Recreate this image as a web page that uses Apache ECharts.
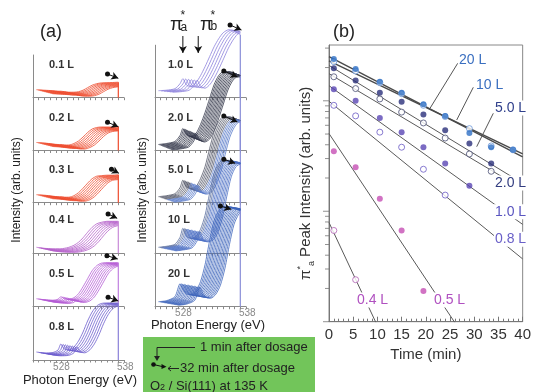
<!DOCTYPE html>
<html><head><meta charset="utf-8">
<script src="https://cdn.jsdelivr.net/npm/echarts/dist/echarts.min.js"></script>
<style>html,body{margin:0;padding:0;background:#fff}#c{width:534px;height:392px}</style>
</head><body><div id="c"></div>
<script>
// ================= Panel (a) data =================
// photon energy grid (eV) of the first (1 min) spectrum in each panel
const energies = [523.6, 525, 526.5, 527.4, 527.9, 528.5, 529.3, 530.2, 531, 531.8, 532.6, 533.4, 534.2, 535, 536, 537, 538];
// intensity of the first spectrum of each dose (arb. units)
const spec01 = [8, 7.5, 7, 6.5, 6.5, 6, 5.5, 5.5, 6, 7.5, 10, 12.5, 14, 14.8, 15, 15.2, 15.5];
const spec02 = [8, 7.5, 6.5, 6, 6, 5.5, 5.5, 7, 9.5, 13.5, 18, 21.5, 23, 23.5, 23.5, 23.5, 24];
const spec03 = [8, 7.5, 6.5, 6, 6, 5.5, 5.5, 7, 10, 14.5, 19.5, 24, 26.5, 27, 27.5, 27.5, 28];
const spec04 = [6, 5, 4.5, 4.5, 4.5, 5, 6, 8, 11, 15.5, 21, 26, 29.5, 31, 32, 32, 32];
const spec05 = [8, 7, 6.5, 7.5, 10, 8, 7.5, 9, 13, 20, 28, 36, 41, 43.5, 44, 44, 44];
const spec08 = [8, 7, 7.5, 10, 16, 11, 10, 13, 19, 28, 39, 48, 54, 56.5, 57, 57, 57];
const spec10 = [7, 7.5, 9, 14, 19, 13, 11, 15, 22, 31, 41, 51, 59, 65, 68, 66, 63];
const spec20 = [6, 7, 9, 15, 22, 16, 14, 17, 26, 38, 52, 66, 75, 79, 79, 77, 75];
const spec50 = [6, 7, 9, 15, 22.5, 16, 14, 16, 24, 36, 54, 71, 81, 86, 86, 84, 82];
const spec100 = [6, 7, 9, 16, 25, 17, 15, 17, 24, 38, 60, 80, 90, 93, 93, 91, 89];
const spec200 = [5, 6, 10, 23, 17, 13, 12, 16, 25, 42, 66, 86, 96, 100, 100, 98, 96];
// dose labels
const doseLeft = ['0.1 L', '0.2 L', '0.3 L', '0.4 L', '0.5 L', '0.8 L'];
const doseRight = ['1.0 L', '2.0 L', '5.0 L', '10 L', '20 L'];
// number of spectra (1 min ... 32 min) and waterfall offset per spectrum
const spectraCount = [9, 9, 9, 8, 9, 8, 6, 12, 12, 13, 15];
const shiftPerSpectrum = [0.35, 0.35, 0.35, 0.4, 0.35, 0.4, 0.5, 0.22, 0.25, 0.25, 0.25];
const dropPerSpectrum = [-0.5, -0.5, -0.5, -0.5, -0.4, -0.4, -0.3, -0.5, -0.5, -0.3, -0.25];
// 1 min -> 32 min indicator (energy, intensity)
const indicatorStart = [[536.1, 23.7], [536.1, 28.3], [536.8, 33.4], [536.2, 39.3], [536.0, 51], [536.2, 62.7], [536.2, 72.7], [535.1, 79.6], [535.1, 86.7], [535.1, 94], [534.5, 100.7]];
const indicatorEnd = [[538.0, 19.4], [538.0, 23.7], [538.1, 29.4], [537.8, 35], [537.9, 47.7], [538.0, 59], [538.2, 67.7], [537.5, 73.6], [537.5, 80.7], [537.1, 90], [536.4, 97.4]];
// pi*a and pi*b arrows in the 1.0 L panel (energy, from, to)
const piArrows = [[527.9, 61.7, 44.7], [530.6, 61.7, 44.7]];
const xTickLabels = [528, 538];

// ================= Panel (b) data =================
const bTimes = [1, 5.5, 10.5, 15, 19.5, 24, 29, 33.5, 38];
const b20 = [2.39, 1.94, 1.49, 1.18, 0.93, 0.73, 0.51, 0.38, 0.36];
const b10 = [2.26, 1.86, 1.46, 1.16, 0.91, 0.72, 0.56, 0.39, 0.36];
const b50 = [1.97, 1.53, 1.18, 0.98, 0.75, 0.54, 0.41, 0.27];
const b2 = [1.65, 1.29, 1.04, 0.79, 0.63, 0.46, 0.33, 0.23];
const b1 = [1.27, 1.0, 0.70, 0.52, 0.38, 0.27, 0.17];
const b08 = [0.91, 0.73, 0.52, 0.38, 0.24, 0.14];
const b05 = [0.35, 0.25, 0.13, 0.067, 0.019];
const b04 = [0.067, 0.024];
// exponential fits (time, intensity) end points
const fit20 = [[0, 2.51], [40, 0.31]];
const fit10 = [[0, 2.30], [40, 0.33]];
const fit50 = [[0, 2.09], [40, 0.179]];
const fit2 = [[0, 1.76], [40, 0.159]];
const fit1 = [[0, 1.37], [40, 0.076]];
const fit08 = [[0, 0.99], [40, 0.037]];
const fit05 = [[0, 0.505], [26, 0.0098]];
const fit04 = [[0, 0.079], [9.7, 0.0098]];
const logMajorTicks = [0.01, 0.1, 1];
const logMinorTicks = [0.02, 0.03, 0.04, 0.05, 0.06, 0.07, 0.08, 0.09, 0.2, 0.3, 0.4, 0.5, 0.6, 0.7, 0.8, 0.9, 2, 3];

// ================= build =================
const FONT = '"Liberation Sans", Arial, Helvetica, sans-serif';
const PX_PER_EV = 91 / 16;
const panelSpecs = [spec01, spec02, spec03, spec04, spec05, spec08, spec10, spec20, spec50, spec100, spec200];
const panelColors = [
  ['#ee4a2c', '#ee4a2c'], ['#ee4a2c', '#ee4a2c'], ['#ee4a2c', '#ee4a2c'],
  ['#b45ec9', '#b45ec9'], ['#b45ad4', '#b45ad4'], ['#6b5acd', '#6b5acd'],
  ['#8c80dc', '#8c80dc'], ['#34374a', '#4a4e66'], ['#55596a', '#5778c8'],
  ['#5a6ea0', '#4b6fc4'], ['#3f66bb', '#3f66bb']];
const colorSplit = [99, 99, 99, 99, 99, 99, 99, 99, 6, 3, 99];
const edgeColors = ['#ee4a2c', '#ee4a2c', '#ee4a2c', '#c88ad8', '#c080e0', '#8a80d8', '#8a8ed8', '#8a8ed8', '#8a8ed8', '#8a8ed8', '#8a8ed8'];
const bottoms = [97.7, 150.5, 202.7, 253.3, 306.7, 360];

const grids = [], xAxes = [], yAxes = [], series = [], graphic = [];

function curve(shape, k, dx, dy) {
  const pts = [];
  for (let j = 0; j < energies.length; j++) {
    const e = energies[j] + k * dx, h = shape[j] + k * dy;
    if (e <= 538) pts.push([e, h]);
    else {
      const pe = energies[j - 1] + k * dx, ph = shape[j - 1] + k * dy;
      const t = (538 - pe) / (e - pe);
      pts.push([538, ph + t * (h - ph)]);
      break;
    }
  }
  return pts;
}
function rotFor(s, e) {
  const ang = Math.atan2(e[1] - s[1], (e[0] - s[0]) * PX_PER_EV) * 180 / Math.PI;
  return ang - 90;
}
function arrowSeries(p, s, e, startSym) {
  series.push({
    type: 'line', xAxisIndex: p, yAxisIndex: p, clip: false, silent: true, z: 40, showSymbol: true,
    lineStyle: { color: '#111', width: 1 }, itemStyle: { color: '#111' },
    data: [
      { value: s, symbol: startSym, symbolSize: 5 },
      { value: e, symbol: 'arrow', symbolSize: [6, 7], symbolRotate: rotFor(s, e) }
    ]
  });
}

for (let p = 0; p < 11; p++) {
  const isLeft = p < 6;
  const row = isLeft ? p : p - 6;
  const bottom = bottoms[row];
  const top = row === 0 ? (isLeft ? 55 : 45.2) : bottoms[row - 1];
  const H = bottom - top;
  const isBottom = isLeft ? row === 5 : row === 4;
  grids.push({ left: isLeft ? 33 : 155, width: 91, top: top, height: H });
  xAxes.push({
    gridIndex: p, type: 'value', min: 523, max: 539, interval: 1,
    axisLine: { show: true, lineStyle: { color: '#8a8a8a', width: 1 } },
    axisTick: { show: true, length: 2.5, lineStyle: { color: '#8a8a8a' } },
    splitLine: { show: false },
    axisLabel: {
      show: isBottom, margin: 2, fontSize: 10, color: '#888', fontFamily: FONT,
      formatter: v => v === xTickLabels[0] ? String(v) : (v === xTickLabels[1] ? '{r|' + v + '}' : ''),
      rich: { r: { fontSize: 10, color: '#888', fontFamily: FONT, padding: [0, 0, 0, 14] } }
    }
  });
  yAxes.push({
    gridIndex: p, type: 'value', min: 0, max: H,
    axisLine: { show: true, lineStyle: { color: '#8a8a8a', width: 1 } },
    axisTick: { show: false }, axisLabel: { show: false }, splitLine: { show: false }
  });
  const shape = panelSpecs[p];
  for (let k = 0; k < spectraCount[p]; k++) {
    series.push({
      type: 'line', xAxisIndex: p, yAxisIndex: p, clip: false, silent: true,
      symbol: 'none', smooth: 0.25, z: 2 + p,
      lineStyle: { width: 0.8, color: k < colorSplit[p] ? panelColors[p][0] : panelColors[p][1] },
      data: curve(shape, k, shiftPerSpectrum[p], dropPerSpectrum[p])
    });
  }
  series.push({
    type: 'line', xAxisIndex: p, yAxisIndex: p, clip: false, silent: true, symbol: 'none', z: 3 + p,
    lineStyle: { width: 1.2, color: edgeColors[p] },
    data: [[538, 0], [538, shape[shape.length - 1]]]
  });
  arrowSeries(p, indicatorStart[p], indicatorEnd[p], 'circle');
  if (p === 6) {
    piArrows.forEach(a => arrowSeries(p, [a[0], a[1]], [a[0], a[2]], 'none'));
  }
  graphic.push({
    type: 'text', x: isLeft ? 49 : 168, y: bottom - 33, z: 50,
    style: { text: isLeft ? doseLeft[row] : doseRight[row], fontSize: 11, fontWeight: 'bold', fontFamily: FONT, fill: '#333', verticalAlign: 'middle' }
  });
}

// ---- panel (b) ----
const B = 11;
grids.push({ left: 329, right: 8.3, top: 45, bottom: 70.3, show: true, borderColor: '#888', borderWidth: 1 });
xAxes.push({
  gridIndex: B, type: 'value', min: 0, max: 40, interval: 5,
  axisLine: { lineStyle: { color: '#777' } },
  axisTick: { inside: true, length: 5, lineStyle: { color: '#777' } },
  minorTick: { show: true, splitNumber: 5, length: 3, lineStyle: { color: '#777' } },
  splitLine: { show: false },
  axisLabel: { fontSize: 15, color: '#333', margin: 6, fontFamily: FONT },
  name: 'Time (min)', nameLocation: 'middle', nameGap: 24,
  nameTextStyle: { fontSize: 15, color: '#333', fontFamily: FONT }
});
yAxes.push({
  gridIndex: B, type: 'log', logBase: 10, min: 0.01, max: 3.2,
  axisLine: { show: true, lineStyle: { color: '#777' } },
  axisTick: { show: false }, axisLabel: { show: false }, splitLine: { show: false },
  name: '{p|π}{s|*}{a|a} Peak Intensity (arb. units)', nameLocation: 'middle', nameGap: 13,
  nameTextStyle: {
    fontSize: 15, color: '#333', fontFamily: FONT, lineHeight: 20,
    rich: {
      p: { fontSize: 15, color: '#333', fontFamily: FONT },
      s: { fontSize: 9, color: '#333', verticalAlign: 'top', fontFamily: FONT },
      a: { fontSize: 9, color: '#333', verticalAlign: 'bottom', fontFamily: FONT }
    }
  }
});
function fitLine(d, w, c) {
  series.push({ type: 'line', xAxisIndex: B, yAxisIndex: B, symbol: 'none', silent: true, z: 3, lineStyle: { width: w, color: c }, data: d });
}
[fit08, fit1, fit2, fit50, fit05, fit04].forEach(f => fitLine(f, 1, '#5a5a5a'));
fitLine(fit10, 1.4, '#4a4a4a');
fitLine(fit20, 1.4, '#4a4a4a');
function pts(vals, color, open) {
  series.push({
    type: 'scatter', xAxisIndex: B, yAxisIndex: B, symbol: 'circle', symbolSize: 6, silent: true, z: 5,
    itemStyle: open ? { color: '#fff', borderColor: color, borderWidth: 1 } : { color: color },
    data: vals.map((v, i) => [bTimes[i], v])
  });
}
pts(b10, '#6a96d8', true);
pts(b20, '#2e6fc4', false);
pts(b50, '#2a2f7a', false);
pts(b2, '#4a4f74', true);
pts(b1, '#5a46b4', false);
pts(b08, '#6a5ac4', true);
pts(b05, '#c54fb4', false);
pts(b04, '#b060b4', true);
series.push({
  type: 'scatter', xAxisIndex: B, yAxisIndex: B, symbol: 'rect', symbolSize: [6, 1], symbolOffset: [-3, 0],
  clip: false, silent: true, itemStyle: { color: '#777' }, data: logMajorTicks.map(v => [0, v])
});
series.push({
  type: 'scatter', xAxisIndex: B, yAxisIndex: B, symbol: 'rect', symbolSize: [4, 1], symbolOffset: [-2, 0],
  clip: false, silent: true, itemStyle: { color: '#777' }, data: logMinorTicks.map(v => [0, v])
});

// ---- annotations ----
function txt(x, y, text, size, color, extra) {
  graphic.push(Object.assign({ type: 'text', x: x, y: y, z: 60, style: Object.assign({ text: text, fontSize: size, fontFamily: FONT, fill: color || '#222', verticalAlign: 'middle' }, (extra && extra.style) || {}) }, extra && extra.el || {}));
}
txt(40, 32, '(a)', 18, '#222');
txt(333, 32, '(b)', 18, '#222');
// pi labels
txt(170, 25, 'π', 19, '#222');
txt(180.5, 16, '*', 12, '#222');
txt(180.5, 28, 'a', 12, '#222');
txt(200, 25, 'π', 19, '#222');
txt(210.5, 16, '*', 12, '#222');
txt(210.5, 27, 'b', 12, '#222');
// y titles of (a)
txt(17, 190, 'Intensity (arb. units)', 12, '#222', { el: { rotation: Math.PI / 2 }, style: { align: 'center' } });
txt(143, 190, 'Intensity (arb. units)', 12, '#222', { el: { rotation: Math.PI / 2 }, style: { align: 'center' } });
txt(80, 380, 'Photon Energy (eV)', 13, '#222', { style: { align: 'center' } });
txt(208, 325, 'Photon Energy (eV)', 13, '#222', { style: { align: 'center' } });
// green legend box
graphic.push({ type: 'rect', z: 55, shape: { x: 143, y: 337, width: 172, height: 56 }, style: { fill: '#72c55a' } });
graphic.push({ type: 'polyline', z: 60, shape: { points: [[195, 347.5], [157, 347.5], [157, 357]] }, style: { stroke: '#222', lineWidth: 1, fill: null } });
graphic.push({ type: 'polygon', z: 60, shape: { points: [[154, 356], [160, 356], [157, 361]] }, style: { fill: '#222' } });
graphic.push({ type: 'circle', z: 60, shape: { cx: 153.5, cy: 364.5, r: 2.3 }, style: { fill: '#111' } });
graphic.push({ type: 'line', z: 60, shape: { x1: 153.5, y1: 364.5, x2: 162, y2: 366.5 }, style: { stroke: '#111', lineWidth: 1 } });
graphic.push({ type: 'polygon', z: 60, shape: { points: [[161.5, 364], [166.5, 366.8], [161.5, 369]] }, style: { fill: '#111' } });
graphic.push({ type: 'line', z: 60, shape: { x1: 168, y1: 368.5, x2: 179, y2: 368.5 }, style: { stroke: '#222', lineWidth: 1 } });
graphic.push({ type: 'polyline', z: 60, shape: { points: [[171, 366], [168, 368.5], [171, 371]] }, style: { stroke: '#222', lineWidth: 1, fill: null } });
txt(200, 347.5, '1 min after dosage', 13, '#222');
txt(180, 368.5, '32 min after dosage', 13, '#222');
graphic.push({
  type: 'text', x: 150, y: 386, z: 60,
  style: {
    text: 'O{s|2} / Si(111) at 135 K', fontSize: 13, fontFamily: FONT, fill: '#222', verticalAlign: 'middle',
    rich: { s: { fontSize: 9, fontFamily: FONT, fill: '#222', verticalAlign: 'bottom' } }
  }
});
// panel (b) dose labels and leaders
const lead = [[[457.7, 63.3], [430, 108.3]], [[473.3, 87.3], [456.7, 120]], [[493.3, 113.3], [476.7, 146.7]]];
lead.forEach(l => graphic.push({ type: 'line', z: 58, shape: { x1: l[0][0], y1: l[0][1], x2: l[1][0], y2: l[1][1] }, style: { stroke: '#555', lineWidth: 1 } }));
function blab(x, y, t, c) {
  txt(x, y, t, 14, c, { style: { backgroundColor: '#fff', padding: [1, 1, 0, 1] } });
}
blab(458, 60, '20 L', '#3a6fc0');
blab(475, 85, '10 L', '#3a6fc0');
blab(494, 108, '5.0 L', '#30408c');
blab(494, 183, '2.0 L', '#333d80');
blab(494, 211.7, '1.0 L', '#5a55c0');
blab(494, 239.3, '0.8 L', '#6a60c8');
blab(356, 300, '0.4 L', '#b050c0');
blab(433, 300, '0.5 L', '#b050c0');

const chart = echarts.init(document.getElementById('c'), null, { renderer: 'canvas' });
chart.setOption({
  animation: false,
  textStyle: { fontFamily: FONT },
  grid: grids, xAxis: xAxes, yAxis: yAxes, series: series, graphic: graphic
});
</script></body></html>
